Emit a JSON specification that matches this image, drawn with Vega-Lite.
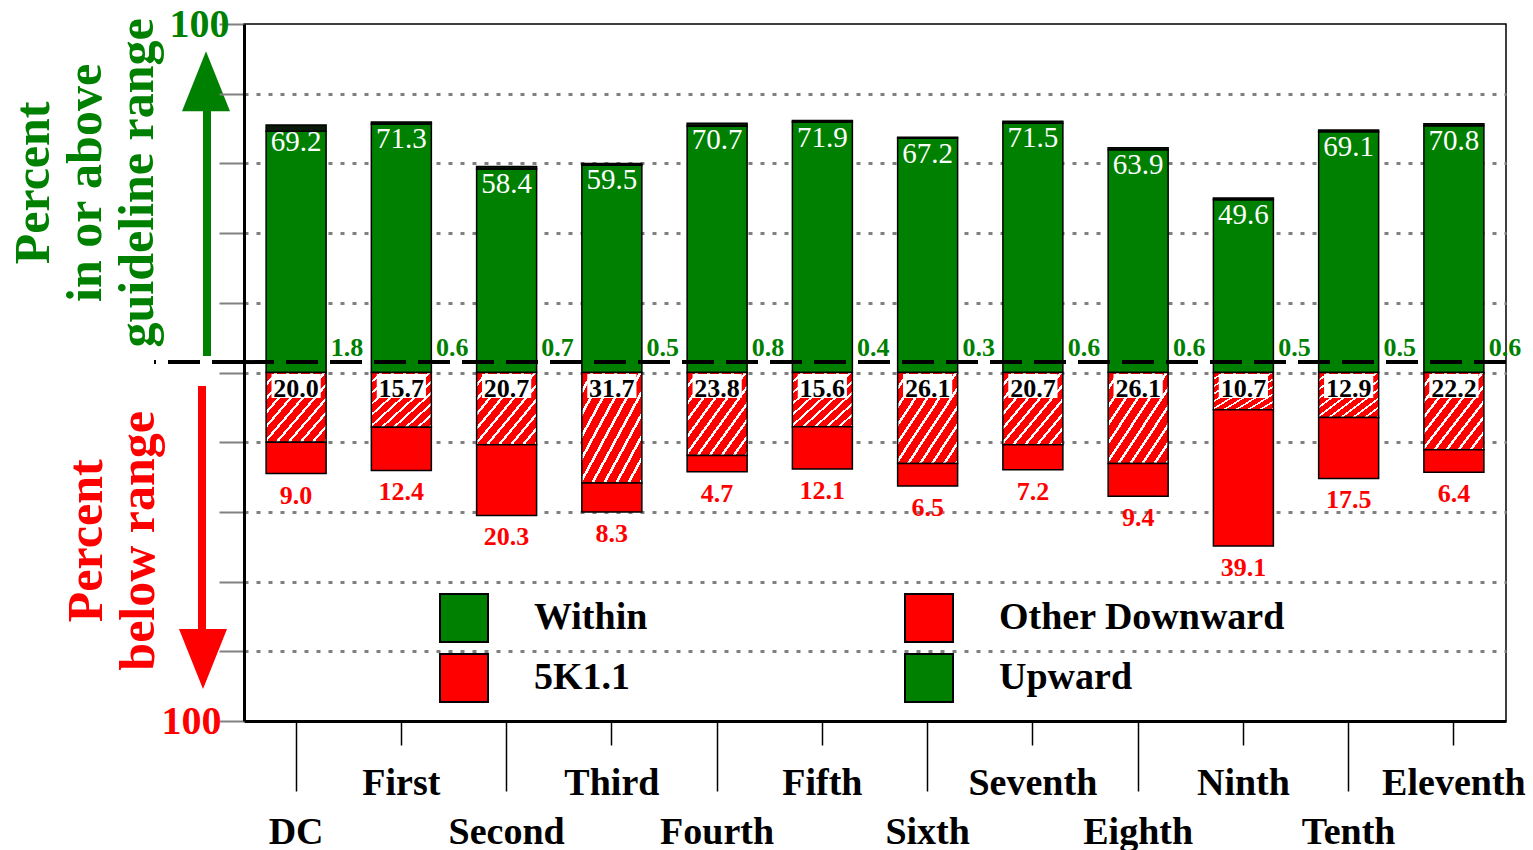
{
  "$schema": "https://vega.github.io/schema/vega-lite/v6.json",
  "padding": {"left": 8, "top": 3, "right": 0, "bottom": 0},
  "background": "white",
  "config": {
    "view": {"stroke": "black", "strokeWidth": 1.5},
    "font": "Liberation Serif"
  },
  "datasets": {
    "one": [{"k": 1}],
    "bars": [
      {"circuit": "DC", "series": "Within", "value": 69.2},
      {"circuit": "DC", "series": "Upward", "value": 1.8},
      {"circuit": "DC", "series": "5K1.1", "value": 20.0},
      {"circuit": "DC", "series": "Other Downward", "value": 9.0},
      {"circuit": "First", "series": "Within", "value": 71.3},
      {"circuit": "First", "series": "Upward", "value": 0.6},
      {"circuit": "First", "series": "5K1.1", "value": 15.7},
      {"circuit": "First", "series": "Other Downward", "value": 12.4},
      {"circuit": "Second", "series": "Within", "value": 58.4},
      {"circuit": "Second", "series": "Upward", "value": 0.7},
      {"circuit": "Second", "series": "5K1.1", "value": 20.7},
      {"circuit": "Second", "series": "Other Downward", "value": 20.3},
      {"circuit": "Third", "series": "Within", "value": 59.5},
      {"circuit": "Third", "series": "Upward", "value": 0.5},
      {"circuit": "Third", "series": "5K1.1", "value": 31.7},
      {"circuit": "Third", "series": "Other Downward", "value": 8.3},
      {"circuit": "Fourth", "series": "Within", "value": 70.7},
      {"circuit": "Fourth", "series": "Upward", "value": 0.8},
      {"circuit": "Fourth", "series": "5K1.1", "value": 23.8},
      {"circuit": "Fourth", "series": "Other Downward", "value": 4.7},
      {"circuit": "Fifth", "series": "Within", "value": 71.9},
      {"circuit": "Fifth", "series": "Upward", "value": 0.4},
      {"circuit": "Fifth", "series": "5K1.1", "value": 15.6},
      {"circuit": "Fifth", "series": "Other Downward", "value": 12.1},
      {"circuit": "Sixth", "series": "Within", "value": 67.2},
      {"circuit": "Sixth", "series": "Upward", "value": 0.3},
      {"circuit": "Sixth", "series": "5K1.1", "value": 26.1},
      {"circuit": "Sixth", "series": "Other Downward", "value": 6.5},
      {"circuit": "Seventh", "series": "Within", "value": 71.5},
      {"circuit": "Seventh", "series": "Upward", "value": 0.6},
      {"circuit": "Seventh", "series": "5K1.1", "value": 20.7},
      {"circuit": "Seventh", "series": "Other Downward", "value": 7.2},
      {"circuit": "Eighth", "series": "Within", "value": 63.9},
      {"circuit": "Eighth", "series": "Upward", "value": 0.6},
      {"circuit": "Eighth", "series": "5K1.1", "value": 26.1},
      {"circuit": "Eighth", "series": "Other Downward", "value": 9.4},
      {"circuit": "Ninth", "series": "Within", "value": 49.6},
      {"circuit": "Ninth", "series": "Upward", "value": 0.5},
      {"circuit": "Ninth", "series": "5K1.1", "value": 10.7},
      {"circuit": "Ninth", "series": "Other Downward", "value": 39.1},
      {"circuit": "Tenth", "series": "Within", "value": 69.1},
      {"circuit": "Tenth", "series": "Upward", "value": 0.5},
      {"circuit": "Tenth", "series": "5K1.1", "value": 12.9},
      {"circuit": "Tenth", "series": "Other Downward", "value": 17.5},
      {"circuit": "Eleventh", "series": "Within", "value": 70.8},
      {"circuit": "Eleventh", "series": "Upward", "value": 0.6},
      {"circuit": "Eleventh", "series": "5K1.1", "value": 22.2},
      {"circuit": "Eleventh", "series": "Other Downward", "value": 6.4}
    ]
  },
  "spacing": 0,
  "bounds": "flush",
  "hconcat": [
    {
      "width": 90,
      "height": 697,
      "view": {"stroke": null},
      "data": {"name": "one"},
      "layer": [
        {
          "mark": {"type": "rule", "color": "black", "strokeWidth": 4, "strokeDash": [32, 12]},
          "encoding": {
            "y": {"datum": 3, "type": "quantitative", "scale": {"domain": [-100, 100], "nice": false, "zero": false}, "axis": null}
          }
        },
        {
          "mark": {"type": "rule", "color": "#008000", "strokeWidth": 8},
          "encoding": {
            "x": {"datum": 53, "type": "quantitative", "scale": {"domain": [0, 90], "nice": false, "zero": false}, "axis": null},
            "y": {"datum": 4.7, "type": "quantitative", "scale": {"domain": [-100, 100], "nice": false, "zero": false}, "axis": null},
            "y2": {"datum": 84}
          }
        },
        {
          "mark": {"type": "point", "shape": "M0,-1.25L1,1.25L-1,1.25Z", "size": 2304, "filled": true, "color": "#008000", "opacity": 1, "strokeWidth": 0},
          "encoding": {
            "x": {"datum": 52, "type": "quantitative", "scale": {"domain": [0, 90], "nice": false, "zero": false}, "axis": null},
            "y": {"datum": 83.6, "type": "quantitative", "scale": {"domain": [-100, 100], "nice": false, "zero": false}, "axis": null}
          }
        },
        {
          "mark": {"type": "rule", "color": "#ff0000", "strokeWidth": 8},
          "encoding": {
            "x": {"datum": 48, "type": "quantitative", "scale": {"domain": [0, 90], "nice": false, "zero": false}, "axis": null},
            "y": {"datum": -3.9, "type": "quantitative", "scale": {"domain": [-100, 100], "nice": false, "zero": false}, "axis": null},
            "y2": {"datum": -80}
          }
        },
        {
          "mark": {"type": "point", "shape": "M0,1.25L1,-1.25L-1,-1.25Z", "size": 2304, "filled": true, "color": "#ff0000", "opacity": 1, "strokeWidth": 0},
          "encoding": {
            "x": {"datum": 49, "type": "quantitative", "scale": {"domain": [0, 90], "nice": false, "zero": false}, "axis": null},
            "y": {"datum": -82.2, "type": "quantitative", "scale": {"domain": [-100, 100], "nice": false, "zero": false}, "axis": null}
          }
        },
        {
          "mark": {"type": "text", "text": ["Percent", "in or above", "guideline range"], "angle": 270, "fontSize": 50, "fontWeight": "bold", "lineHeight": 52, "color": "#008000", "align": "center", "baseline": "middle", "font": "Liberation Serif"},
          "encoding": {
            "x": {"datum": -120, "type": "quantitative", "scale": {"domain": [0, 90], "nice": false, "zero": false}, "axis": null},
            "y": {"datum": 54.4, "type": "quantitative", "scale": {"domain": [-100, 100], "nice": false, "zero": false}, "axis": null}
          }
        },
        {
          "mark": {"type": "text", "text": ["Percent", "below range"], "angle": 270, "fontSize": 50, "fontWeight": "bold", "lineHeight": 52, "color": "#ff0000", "align": "center", "baseline": "middle", "font": "Liberation Serif"},
          "encoding": {
            "x": {"datum": -67, "type": "quantitative", "scale": {"domain": [0, 90], "nice": false, "zero": false}, "axis": null},
            "y": {"datum": -48.3, "type": "quantitative", "scale": {"domain": [-100, 100], "nice": false, "zero": false}, "axis": null}
          }
        }
      ]
    },
    {
      "width": 1262,
      "height": 697,
      "data": {"name": "bars"},
      "resolve": {"scale": {"y": "independent"}, "axis": {"y": "independent"}},
      "layer": [
        {
          "layer": [
            {
              "transform": [
                {"filter": {"field": "series", "oneOf": ["Within", "Upward"]}},
                {"stack": "value", "groupby": ["circuit"], "sort": [{"field": "series", "order": "descending"}], "as": ["v0", "v1"]}
              ],
              "mark": {"type": "bar", "stroke": "black", "strokeWidth": 1.5},
              "encoding": {
                "x": {
                  "field": "circuit", "type": "nominal", "sort": null,
                  "scale": {"paddingInner": 0.43, "paddingOuter": 0.21},
                  "axis": {
                    "title": null, "labelAngle": 0, "labelFont": "Liberation Serif", "labelFontSize": 38, "labelFontWeight": "bold", "labelColor": "black",
                    "labelBaseline": "top", "labelOverlap": false, "labelFlush": false, "labelBound": false, "labelLimit": 300,
                    "domainColor": "black", "domainWidth": 3, "tickColor": "black", "tickWidth": 1.5,
                    "tickSize": {"condition": {"test": "indexof(['DC','Second','Fourth','Sixth','Eighth','Tenth'], datum.value) >= 0", "value": 70}, "value": 24},
                    "labelPadding": {"condition": {"test": "indexof(['DC','Second','Fourth','Sixth','Eighth','Tenth'], datum.value) >= 0", "value": 22}, "value": 19}
                  }
                },
                "y": {
                  "field": "v0", "type": "quantitative",
                  "scale": {"domain": [-100, 100], "nice": false, "zero": false},
                  "axis": {
                    "title": null, "values": [-100, -80, -60, -40, -20, 0, 20, 40, 60, 80, 100],
                    "grid": true, "gridColor": "#808080", "gridWidth": 3, "gridDash": [4, 8],
                    "gridOpacity": {"condition": {"test": "abs(datum.value) == 100", "value": 0}, "value": 1},
                    "domainColor": "black", "domainWidth": 3, "tickColor": "#808080", "tickWidth": 2, "tickSize": 25,
                    "labelExpr": "abs(datum.value) == 100 ? '100' : ''",
                    "labelFont": "Liberation Serif", "labelFontSize": 40, "labelFontWeight": "bold",
                    "labelColor": {"condition": {"test": "datum.value > 0", "value": "#008000"}, "value": "#ff0000"},
                    "labelPadding": {"condition": {"test": "datum.value > 0", "value": -10}, "value": -2}
                  }
                },
                "y2": {"field": "v1"},
                "fill": {
                  "field": "series", "type": "nominal",
                  "scale": {"domain": ["Within", "Other Downward", "5K1.1", "Upward"], "range": ["#008000", "#ff0000", "#ff0000", "#008000"]},
                  "condition": [
                    {"test": "datum.series === 'Upward'", "value": "#0a1a0a"}
                  ],
                  "legend": {
                    "orient": "none", "legendX": 285, "legendY": 569, "title": null, "columns": 2, "direction": "horizontal",
                    "symbolType": "square", "symbolSize": 2304, "symbolStrokeColor": "black", "symbolStrokeWidth": 2, "symbolOpacity": 1,
                    "labelFont": "Liberation Serif", "labelFontSize": 38, "labelFontWeight": "bold", "labelColor": "black",
                    "labelOffset": 45, "columnPadding": 253, "rowPadding": 4, "padding": 0, "labelLimit": 400
                  }
                }
              }
            },
            {
              "mark": {"type": "point", "filled": false, "opacity": 0},
              "encoding": {
                "color": {
                  "field": "series", "type": "nominal",
                  "scale": {"domain": ["Within", "Other Downward", "5K1.1", "Upward"], "range": ["black", "black", "black", "black"]},
                  "legend": {
                    "orient": "none", "legendX": 285, "legendY": 569, "title": null, "columns": 2, "direction": "horizontal",
                    "symbolType": "square", "symbolSize": 2304, "symbolStrokeWidth": 2, "symbolOpacity": 1,
                    "labelFont": "Liberation Serif", "labelFontSize": 38, "labelFontWeight": "bold", "labelColor": "black",
                    "labelOffset": 45, "columnPadding": 253, "rowPadding": 4, "padding": 0, "labelLimit": 400,
                    "encode": {"symbols": {"update": {
                      "fill": [
                        {"test": "datum.value === '5K1.1'", "value": {"gradient": "linear", "x1": 0, "y1": 0, "x2": 1, "y2": 1, "stops": [
                          {"offset": 0, "color": "#ff0000"}, {"offset": 0.075, "color": "#ff0000"}, {"offset": 0.075, "color": "#ffffff"}, {"offset": 0.1, "color": "#ffffff"},
                          {"offset": 0.1, "color": "#ff0000"}, {"offset": 0.175, "color": "#ff0000"}, {"offset": 0.175, "color": "#ffffff"}, {"offset": 0.2, "color": "#ffffff"},
                          {"offset": 0.2, "color": "#ff0000"}, {"offset": 0.275, "color": "#ff0000"}, {"offset": 0.275, "color": "#ffffff"}, {"offset": 0.3, "color": "#ffffff"},
                          {"offset": 0.3, "color": "#ff0000"}, {"offset": 0.375, "color": "#ff0000"}, {"offset": 0.375, "color": "#ffffff"}, {"offset": 0.4, "color": "#ffffff"},
                          {"offset": 0.4, "color": "#ff0000"}, {"offset": 0.475, "color": "#ff0000"}, {"offset": 0.475, "color": "#ffffff"}, {"offset": 0.5, "color": "#ffffff"},
                          {"offset": 0.5, "color": "#ff0000"}, {"offset": 0.575, "color": "#ff0000"}, {"offset": 0.575, "color": "#ffffff"}, {"offset": 0.6, "color": "#ffffff"},
                          {"offset": 0.6, "color": "#ff0000"}, {"offset": 0.675, "color": "#ff0000"}, {"offset": 0.675, "color": "#ffffff"}, {"offset": 0.7, "color": "#ffffff"},
                          {"offset": 0.7, "color": "#ff0000"}, {"offset": 0.775, "color": "#ff0000"}, {"offset": 0.775, "color": "#ffffff"}, {"offset": 0.8, "color": "#ffffff"},
                          {"offset": 0.8, "color": "#ff0000"}, {"offset": 0.875, "color": "#ff0000"}, {"offset": 0.875, "color": "#ffffff"}, {"offset": 0.9, "color": "#ffffff"},
                          {"offset": 0.9, "color": "#ff0000"}, {"offset": 0.975, "color": "#ff0000"}, {"offset": 0.975, "color": "#ffffff"}, {"offset": 1, "color": "#ffffff"}
                        ]}},
                        {"test": "datum.value === 'Upward'", "value": {"gradient": "linear", "x1": 0, "y1": 0, "x2": 1, "y2": 0, "stops": [
                          {"offset": 0, "color": "#008000"}, {"offset": 0.09, "color": "#008000"}, {"offset": 0.09, "color": "#ffffff"}, {"offset": 0.125, "color": "#ffffff"},
                          {"offset": 0.125, "color": "#008000"}, {"offset": 0.215, "color": "#008000"}, {"offset": 0.215, "color": "#ffffff"}, {"offset": 0.25, "color": "#ffffff"},
                          {"offset": 0.25, "color": "#008000"}, {"offset": 0.34, "color": "#008000"}, {"offset": 0.34, "color": "#ffffff"}, {"offset": 0.375, "color": "#ffffff"},
                          {"offset": 0.375, "color": "#008000"}, {"offset": 0.465, "color": "#008000"}, {"offset": 0.465, "color": "#ffffff"}, {"offset": 0.5, "color": "#ffffff"},
                          {"offset": 0.5, "color": "#008000"}, {"offset": 0.59, "color": "#008000"}, {"offset": 0.59, "color": "#ffffff"}, {"offset": 0.625, "color": "#ffffff"},
                          {"offset": 0.625, "color": "#008000"}, {"offset": 0.715, "color": "#008000"}, {"offset": 0.715, "color": "#ffffff"}, {"offset": 0.75, "color": "#ffffff"},
                          {"offset": 0.75, "color": "#008000"}, {"offset": 0.84, "color": "#008000"}, {"offset": 0.84, "color": "#ffffff"}, {"offset": 0.875, "color": "#ffffff"},
                          {"offset": 0.875, "color": "#008000"}, {"offset": 0.965, "color": "#008000"}, {"offset": 0.965, "color": "#ffffff"}, {"offset": 1, "color": "#ffffff"}
                        ]}},
                        {"test": "datum.value === 'Within'", "value": "#008000"},
                        {"value": "#ff0000"}
                      ]
                    }}}
                  }
                }
              }
            },
            {
              "transform": [
                {"filter": {"field": "series", "oneOf": ["Within", "Upward"]}},
                {"stack": "value", "groupby": ["circuit"], "sort": [{"field": "series", "order": "descending"}], "as": ["v0", "v1"]},
                {"joinaggregate": [{"op": "max", "field": "v1", "as": "top"}], "groupby": ["circuit"]},
                {"filter": {"field": "series", "equal": "Within"}}
              ],
              "mark": {"type": "text", "color": "white", "fontSize": 29, "font": "Liberation Serif", "baseline": "alphabetic", "dy": 26},
              "encoding": {
                "x": {"field": "circuit", "type": "nominal", "sort": null},
                "y": {"field": "top", "type": "quantitative"},
                "text": {"field": "value", "type": "quantitative", "format": ".1f"}
              }
            },
            {
              "transform": [{"filter": {"field": "series", "equal": "Upward"}}],
              "mark": {"type": "text", "color": "#008000", "fontSize": 26, "fontWeight": "bold", "font": "Liberation Serif", "baseline": "alphabetic", "dx": 51, "dy": -17},
              "encoding": {
                "x": {"field": "circuit", "type": "nominal", "sort": null},
                "y": {"datum": 0, "type": "quantitative"},
                "text": {"field": "value", "type": "quantitative", "format": ".1f"}
              }
            },
            {
              "data": {"name": "one"},
              "mark": {"type": "rule", "color": "black", "strokeWidth": 4, "strokeDash": [32, 12]},
              "encoding": {"y": {"datum": 3, "type": "quantitative"}}
            }
          ]
        },
        {
          "layer": [
            {
              "transform": [
                {"filter": {"field": "series", "oneOf": ["5K1.1", "Other Downward"]}},
                {"stack": "value", "groupby": ["circuit"], "sort": [{"field": "series", "order": "ascending"}], "as": ["v0", "v1"]}
              ],
              "mark": {"type": "bar", "stroke": "black", "strokeWidth": 1.5},
              "encoding": {
                "x": {"field": "circuit", "type": "nominal", "sort": null},
                "y": {"field": "v0", "type": "quantitative", "scale": {"domain": [-100, 100], "nice": false, "zero": false, "reverse": true}, "axis": null},
                "y2": {"field": "v1"},
                "fill": {
                  "field": "series", "type": "nominal",
                  "scale": {"domain": ["Within", "Other Downward", "5K1.1", "Upward"], "range": ["#008000", "#ff0000", "#ff0000", "#008000"]},
                  "condition": [
                    {"test": "datum.series === '5K1.1'", "value": {"gradient": "linear", "x1": 0, "y1": 0, "x2": 1, "y2": 1, "stops": [
                      {"offset": 0, "color": "#ff0000"}, {"offset": 0.075, "color": "#ff0000"}, {"offset": 0.075, "color": "#ffffff"}, {"offset": 0.1, "color": "#ffffff"},
                      {"offset": 0.1, "color": "#ff0000"}, {"offset": 0.175, "color": "#ff0000"}, {"offset": 0.175, "color": "#ffffff"}, {"offset": 0.2, "color": "#ffffff"},
                      {"offset": 0.2, "color": "#ff0000"}, {"offset": 0.275, "color": "#ff0000"}, {"offset": 0.275, "color": "#ffffff"}, {"offset": 0.3, "color": "#ffffff"},
                      {"offset": 0.3, "color": "#ff0000"}, {"offset": 0.375, "color": "#ff0000"}, {"offset": 0.375, "color": "#ffffff"}, {"offset": 0.4, "color": "#ffffff"},
                      {"offset": 0.4, "color": "#ff0000"}, {"offset": 0.475, "color": "#ff0000"}, {"offset": 0.475, "color": "#ffffff"}, {"offset": 0.5, "color": "#ffffff"},
                      {"offset": 0.5, "color": "#ff0000"}, {"offset": 0.575, "color": "#ff0000"}, {"offset": 0.575, "color": "#ffffff"}, {"offset": 0.6, "color": "#ffffff"},
                      {"offset": 0.6, "color": "#ff0000"}, {"offset": 0.675, "color": "#ff0000"}, {"offset": 0.675, "color": "#ffffff"}, {"offset": 0.7, "color": "#ffffff"},
                      {"offset": 0.7, "color": "#ff0000"}, {"offset": 0.775, "color": "#ff0000"}, {"offset": 0.775, "color": "#ffffff"}, {"offset": 0.8, "color": "#ffffff"},
                      {"offset": 0.8, "color": "#ff0000"}, {"offset": 0.875, "color": "#ff0000"}, {"offset": 0.875, "color": "#ffffff"}, {"offset": 0.9, "color": "#ffffff"},
                      {"offset": 0.9, "color": "#ff0000"}, {"offset": 0.975, "color": "#ff0000"}, {"offset": 0.975, "color": "#ffffff"}, {"offset": 1, "color": "#ffffff"}
                    ]}}
                  ]
                }
              }
            },
            {
              "transform": [{"filter": {"field": "series", "equal": "5K1.1"}}],
              "mark": {"type": "bar", "color": "white", "width": {"band": 0.82}},
              "encoding": {
                "x": {"field": "circuit", "type": "nominal", "sort": null},
                "y": {"datum": 0.4, "type": "quantitative"},
                "y2": {"datum": 7.3}
              }
            },
            {
              "transform": [{"filter": {"field": "series", "equal": "5K1.1"}}],
              "mark": {"type": "text", "color": "black", "fontSize": 26, "fontWeight": "bold", "font": "Liberation Serif", "baseline": "alphabetic", "dy": 24},
              "encoding": {
                "x": {"field": "circuit", "type": "nominal", "sort": null},
                "y": {"datum": 0, "type": "quantitative"},
                "text": {"field": "value", "type": "quantitative", "format": ".1f"}
              }
            },
            {
              "transform": [
                {"filter": {"field": "series", "oneOf": ["5K1.1", "Other Downward"]}},
                {"stack": "value", "groupby": ["circuit"], "sort": [{"field": "series", "order": "ascending"}], "as": ["v0", "v1"]},
                {"filter": {"field": "series", "equal": "Other Downward"}}
              ],
              "mark": {"type": "text", "color": "#ff0000", "fontSize": 26, "fontWeight": "bold", "font": "Liberation Serif", "baseline": "alphabetic", "dy": 30},
              "encoding": {
                "x": {"field": "circuit", "type": "nominal", "sort": null},
                "y": {"field": "v1", "type": "quantitative"},
                "text": {"field": "value", "type": "quantitative", "format": ".1f"}
              }
            }
          ]
        }
      ]
    }
  ]
}
